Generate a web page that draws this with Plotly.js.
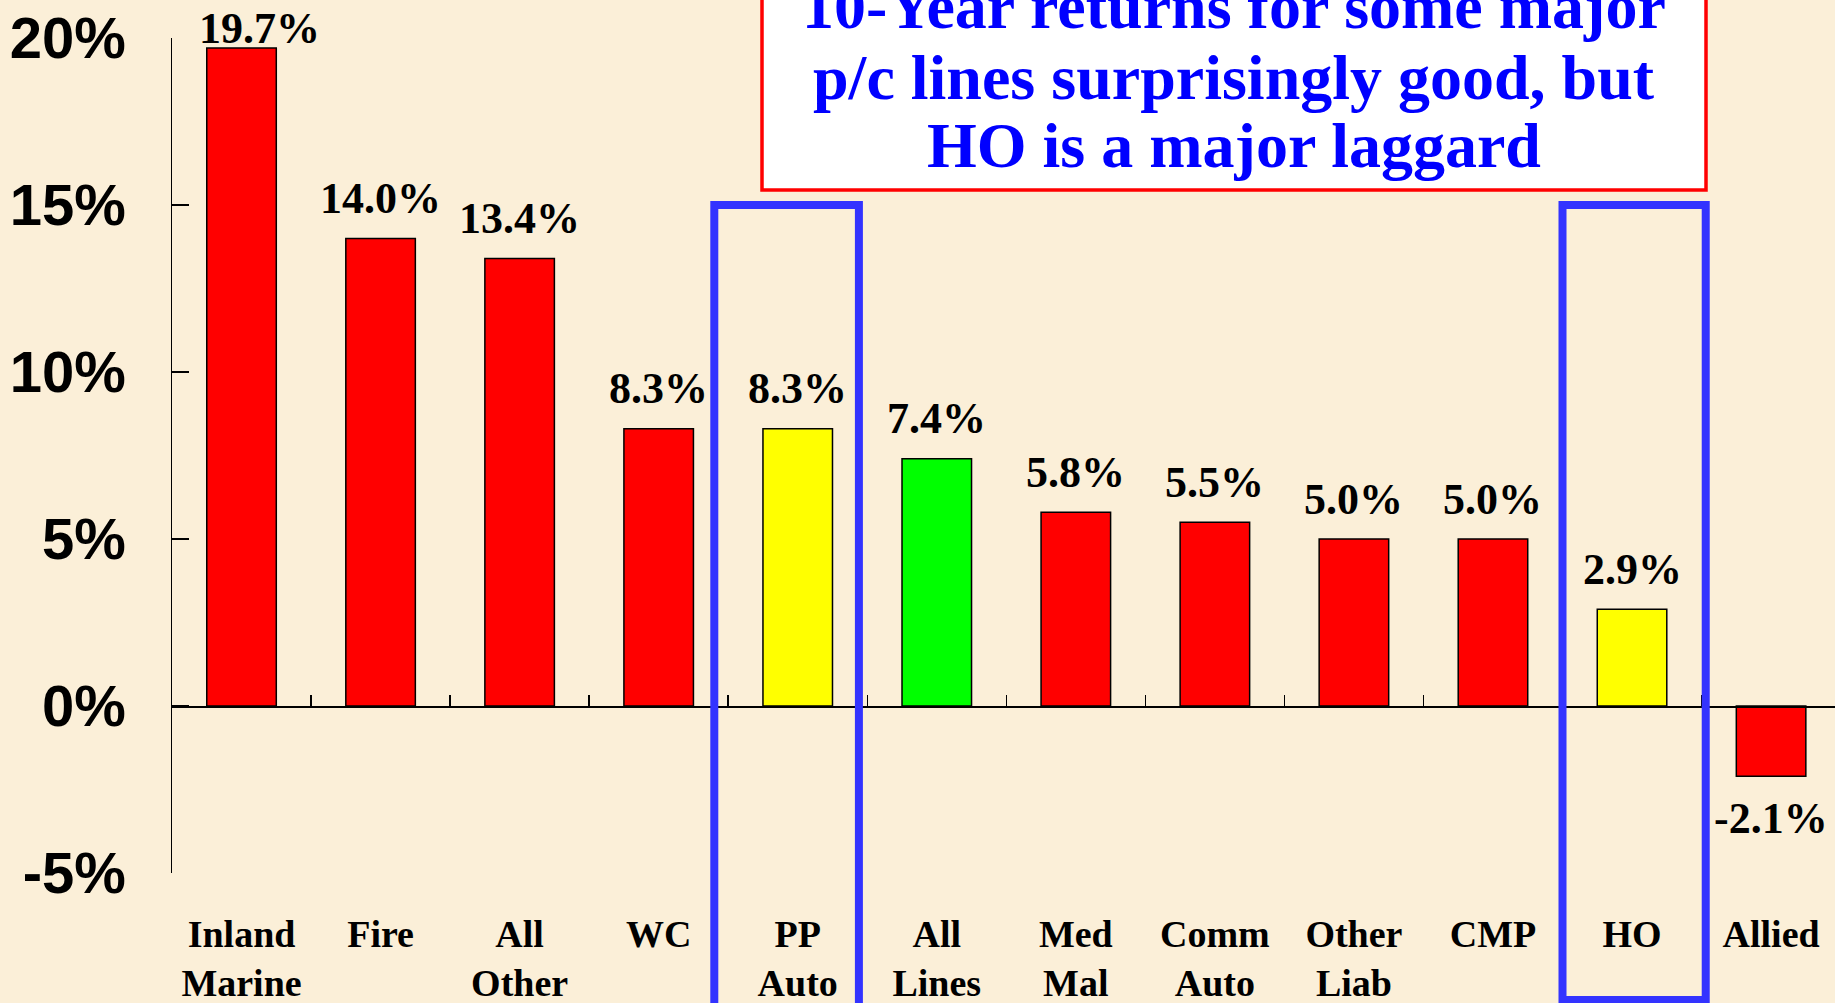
<!DOCTYPE html>
<html>
<head>
<meta charset="utf-8">
<script src="https://cdn.plot.ly/plotly-3.0.1.min.js"></script>
<style>
  html, body { margin: 0; padding: 0; background: #FBEFD8; }
  #chart { width: 1835px; height: 1003px; }
</style>
</head>
<body>
<div id="chart"></div>
<script>
// ---- data ----
const categories = ['Inland<br>Marine', 'Fire', 'All<br>Other', 'WC', 'PP<br>Auto', 'All<br>Lines',
                    'Med<br>Mal', 'Comm<br>Auto', 'Other<br>Liab', 'CMP', 'HO', 'Allied'];
const returns10yr = [19.7, 14.0, 13.4, 8.3, 8.3, 7.4, 5.8, 5.5, 5.0, 5.0, 2.9, -2.1];
const barColors = ['#FF0000', '#FF0000', '#FF0000', '#FF0000', '#FFFF00', '#00FF00',
                   '#FF0000', '#FF0000', '#FF0000', '#FF0000', '#FFFF00', '#FF0000'];
const yTickVals = [-5, 0, 5, 10, 15, 20];
const highlighted = ['PP<br>Auto', 'HO'];
const titleLines = ['10-Year returns for some major', 'p/c lines surprisingly good, but', 'HO is a major laggard'];

// ---- layout geometry (pixels) ----
const W = 1835, H = 1003;
const M = { l: 172, r: 0, t: 38, b: 130 };
const PW = W - M.l - M.r, PH = H - M.t - M.b;
const yRange = [-5, 20];
const xRange = [-0.5, -0.5 + PW / 139.05];
const px2paperX = px => (px - M.l) / PW;
const px2paperY = py => 1 - (py - M.t) / PH;
const val2paperY = v => (v - yRange[0]) / (yRange[1] - yRange[0]);

const serifBold = { family: 'Liberation Serif, Times New Roman, serif', weight: 'bold', color: '#000000' };

const bars = {
  type: 'bar',
  x: categories,
  y: returns10yr,
  width: 0.5,
  marker: { color: barColors, line: { color: '#000000', width: 1.5 } },
  hoverinfo: 'skip',
  xaxis: 'x', yaxis: 'y'
};
// invisible trace so the zero-level category axis gets its boundary ticks
const zeroAxisHelper = {
  type: 'scatter', mode: 'none',
  x: categories, y: returns10yr,
  hoverinfo: 'skip', showlegend: false,
  xaxis: 'x2', yaxis: 'y'
};

const annotations = returns10yr.map((v, i) => ({
  x: categories[i], y: v, xref: 'x', yref: 'y',
  text: v.toFixed(1) + '%',
  showarrow: false,
  yanchor: 'middle', xanchor: 'center',
  yshift: i === 0 ? 20 : (v >= 0 ? 40 : -42),
  xshift: i === 0 ? 18 : 0,
  font: Object.assign({ size: 44 }, serifBold)
}));

const titleCenters = [7, 77, 145];
titleLines.forEach((t, i) => {
  annotations.push({
    xref: 'paper', yref: 'paper',
    x: px2paperX(1234), y: px2paperY(titleCenters[i]),
    text: t, showarrow: false, xanchor: 'center', yanchor: 'middle',
    font: { family: 'Liberation Serif, Times New Roman, serif', weight: 'bold', size: 64, color: '#0000FF' }
  });
});

const boxStyle = {
  'PP<br>Auto': { left: 0.6, right: 0.44, bottom: 1012 },
  'HO': { left: 0.5, right: 0.53, bottom: 1000 }
};
const shapes = [
  { type: 'rect', xref: 'paper', yref: 'paper', layer: 'above',
    x0: px2paperX(762), x1: px2paperX(1706), y0: px2paperY(190), y1: px2paperY(-20),
    fillcolor: '#FFFFFF', line: { color: '#FF0000', width: 3.5 } }
];
highlighted.forEach(c => {
  const i = categories.indexOf(c);
  const s = boxStyle[c];
  shapes.push({ type: 'rect', xref: 'x', yref: 'paper', layer: 'above',
    x0: i - s.left, x1: i + s.right,
    y0: px2paperY(s.bottom), y1: val2paperY(15),
    fillcolor: 'rgba(0,0,0,0)', line: { color: '#3333FF', width: 8 } });
});

const layout = {
  width: W, height: H,
  margin: M,
  paper_bgcolor: '#FBEFD8',
  plot_bgcolor: 'rgba(0,0,0,0)',
  showlegend: false,
  bargap: 0.5,
  xaxis: {
    type: 'category', range: xRange, fixedrange: true,
    showline: false, showgrid: false, zeroline: false, ticks: '',
    tickfont: Object.assign({ size: 38 }, serifBold),
    ticklabelstandoff: 35,
    anchor: 'y'
  },
  xaxis2: {
    type: 'category', range: xRange, overlaying: 'x', anchor: 'free', position: val2paperY(0),
    showticklabels: false, showgrid: false, zeroline: false,
    showline: true, linecolor: '#000000', linewidth: 1.5,
    ticks: 'inside', tickson: 'boundaries', ticklen: 11, tickwidth: 1.5, tickcolor: '#000000'
  },
  yaxis: {
    range: yRange, fixedrange: true,
    tickvals: yTickVals, ticktext: yTickVals.map(v => v + '%'),
    showline: true, linecolor: '#000000', linewidth: 1.5,
    ticks: 'inside', ticklen: 17, tickwidth: 1.5, tickcolor: '#000000',
    showgrid: false, zeroline: false,
    tickfont: { family: 'Liberation Sans, Arial, sans-serif', weight: 'bold', size: 58, color: '#000000' },
    ticklabelstandoff: 33
  },
  annotations: annotations,
  shapes: shapes
};

Plotly.newPlot('chart', [bars, zeroAxisHelper], layout, { displayModeBar: false, staticPlot: true });
</script>
</body>
</html>
